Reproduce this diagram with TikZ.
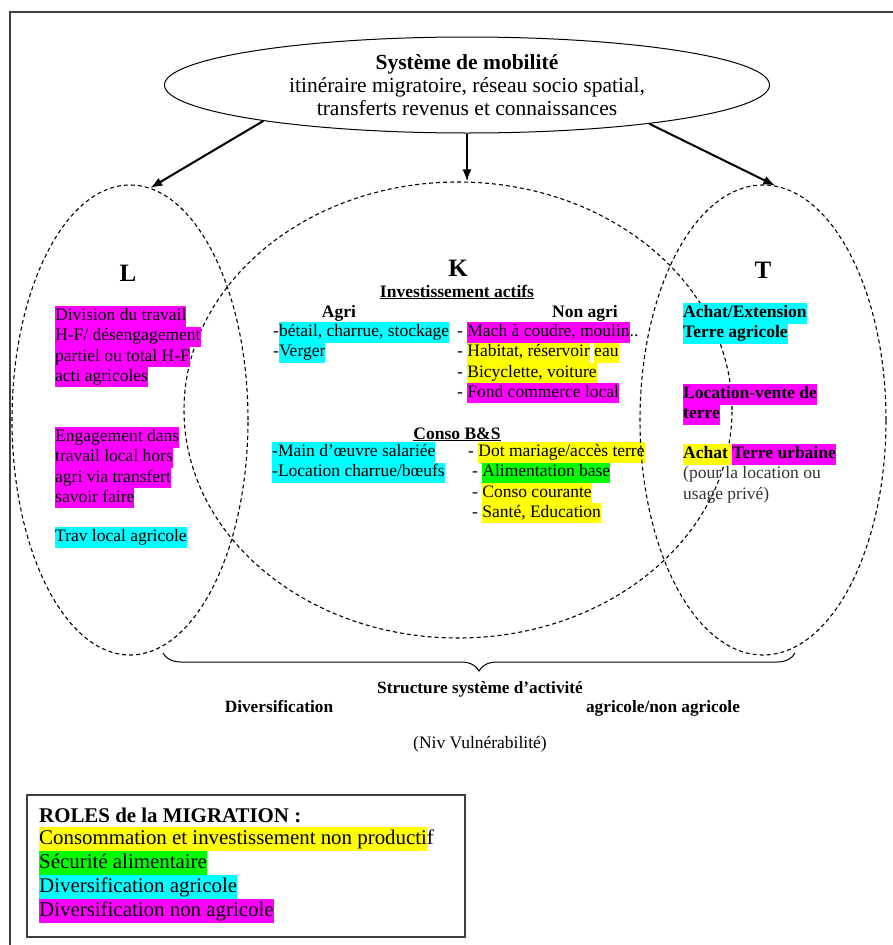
\documentclass[tikz,border=0pt]{standalone}
\usepackage{fontspec}
\setmainfont{Liberation Serif}
\usetikzlibrary{shapes,arrows.meta,positioning,decorations.pathreplacing}

\definecolor{hlcyan}{RGB}{0,255,255}
\definecolor{hlmag}{RGB}{255,0,255}
\definecolor{hlyel}{RGB}{255,255,0}
\definecolor{hlgreen}{RGB}{0,255,0}
\definecolor{framegray}{RGB}{64,64,64}

\newcommand{\hlbox}[2]{{\setlength{\fboxsep}{0pt}\colorbox{#1}{\strut#2}}}

\begin{document}
\begin{tikzpicture}[x=1pt, y=-1pt,
    zone/.style={draw, ellipse, dash pattern=on 4pt off 3pt, line width=1.1pt, inner sep=0pt},
    edge/.style={-{Latex[length=12pt,width=9pt]}, line width=2pt},
    txt/.style={inner sep=0pt, align=left, font=\fontsize{17.5}{20.3}\selectfont},
    btxt/.style={txt, font=\fontsize{17.5}{20.3}\selectfont\bfseries},
    head/.style={inner sep=0pt, font=\fontsize{25}{28}\selectfont\bfseries},
    sub/.style={inner sep=0pt, anchor=base, font=\fontsize{17.5}{20.3}\selectfont\bfseries},
    legtxt/.style={inner sep=0pt, align=left, anchor=north west, font=\fontsize{20.9}{24}\selectfont},
]
\useasboundingbox (0,0) rectangle (893,945);

% Frame
\draw[framegray, line width=2pt] (9.5,945) -- (9.5,11.5) -- (893,11.5);

% Mobility system
\node[draw, ellipse, line width=1pt, inner sep=0pt, minimum width=605pt, minimum height=96pt,
      align=center, font=\fontsize{21.5}{23}\selectfont] (mob) at (467,85)
     {\textbf{Système de mobilité}\\ itinéraire migratoire, réseau socio spatial,\\ transferts revenus et connaissances};

% Capitals L and K
\node[zone, minimum width=236pt, minimum height=470pt] (L) at (130,420) {};
\node[zone, minimum width=548pt, minimum height=456pt] (K) at (458,410) {};

\node[head] (Lh) at (128,273) {L};
\node[head] (Kh) at (458,268) {K};
\node[head] (Th) at (763,270) {T};

% L
\node[txt, anchor=north west] (l1) at (55,306) {\hlbox{hlmag}{Division du travail}\\ \hlbox{hlmag}{H-F/ désengagement}\\ \hlbox{hlmag}{partiel ou total H-F}\\ \hlbox{hlmag}{acti agricoles}};
\node[txt, anchor=north west] (l2) at (55,427) {\hlbox{hlmag}{Engagement dans}\\ \hlbox{hlmag}{travail local hors}\\ \hlbox{hlmag}{agri via transfert}\\ \hlbox{hlmag}{savoir faire}};
\node[txt, anchor=north west] (l3) at (55,527) {\hlbox{hlcyan}{Trav local agricole}};

% K
\node[sub] (invest) at (457,297) {\underline{Investissement actifs}};
\node[sub] (agri) at (339,317) {Agri};
\node[sub] (nonagri) at (585,317) {Non agri};
\node[txt, anchor=north west] (kagri) at (273,322) {-\hlbox{hlcyan}{bétail, charrue, stockage}\\ -\hlbox{hlcyan}{Verger}};
\node[txt, anchor=north west] (knon) at (457,322) {- \hlbox{hlmag}{Mach à coudre, moulin}..\\ - \hlbox{hlyel}{Habitat, réservoir} \hlbox{hlyel}{eau}\\ - \hlbox{hlyel}{Bicyclette, voiture}\\ - \hlbox{hlmag}{Fond commerce local}};

\node[sub] (conso) at (457,439) {\underline{Conso B\&S}};
\node[txt, anchor=north west] (kserv) at (272,442) {\hlbox{hlcyan}{-Main d’œuvre salariée}\\ \hlbox{hlcyan}{-Location charrue/bœufs}};
\node[txt, anchor=north west] (kbien) at (468,442) {- \hlbox{hlyel}{Dot mariage/accès terre}\\ \hspace*{4pt}- \hlbox{hlgreen}{Alimentation base}\\ \hspace*{4pt}- \hlbox{hlyel}{Conso courante}\\ \hspace*{4pt}- \hlbox{hlyel}{Santé, Education}};

% T
\node[btxt, anchor=north west] (t1) at (683,303) {\hlbox{hlcyan}{Achat/Extension}\\ \hlbox{hlcyan}{Terre agricole}};
\node[btxt, anchor=north west] (t2) at (683,384) {\hlbox{hlmag}{Location-vente de}\\ \hlbox{hlmag}{terre}};
\node[txt, anchor=north west] (t3) at (683,444) {\textbf{\hlbox{hlyel}{Achat }\hlbox{hlmag}{Terre urbaine}}\\ {\color{black!80}(pour la location ou}\\ {\color{black!80}usage privé)}};

\node[zone, minimum width=246pt, minimum height=470pt] (T) at (763,420) {};

% Arrows
\draw[edge] (mob.190) -- (L.85);
\draw[edge] (mob.south) -- (mob.south |- K.north);
\draw[edge] (mob.348) -- (T.87);

% Structure
\coordinate (bl) at (163,653);
\coordinate (br) at (795,653);
\draw[decorate, decoration={brace, mirror, amplitude=18pt}, line width=1pt] (bl) -- (br);

\node[sub, font=\fontsize{17.25}{19}\selectfont\bfseries] (struct) at (480,693) {Structure système d’activité};
\node[sub, font=\fontsize{17.25}{19}\selectfont\bfseries] (divers) at (279,712) {Diversification};
\node[sub, font=\fontsize{17.25}{19}\selectfont\bfseries] (agnon) at (663,712) {agricole/non agricole};
\node[txt, anchor=base] (vuln) at (480,748) {(Niv Vulnérabilité)};

% Roles
\node[draw=framegray, line width=1.5pt, minimum width=438pt, minimum height=142pt, inner sep=0pt] (roles) at (246,866) {};
\node[legtxt, anchor=base west, font=\fontsize{20.9}{24}\selectfont\bfseries] (rolestitle) at (39,822) {ROLES de la MIGRATION :};
\node[legtxt] (roleslist) at (39,827) {\hlbox{hlyel}{Consommation et investissement non producti}f\\ \hlbox{hlgreen}{Sécurité alimentaire}\\ \hlbox{hlcyan}{Diversification agricole}\\ \hlbox{hlmag}{Diversification non agricole}};

\end{tikzpicture}
\end{document}
